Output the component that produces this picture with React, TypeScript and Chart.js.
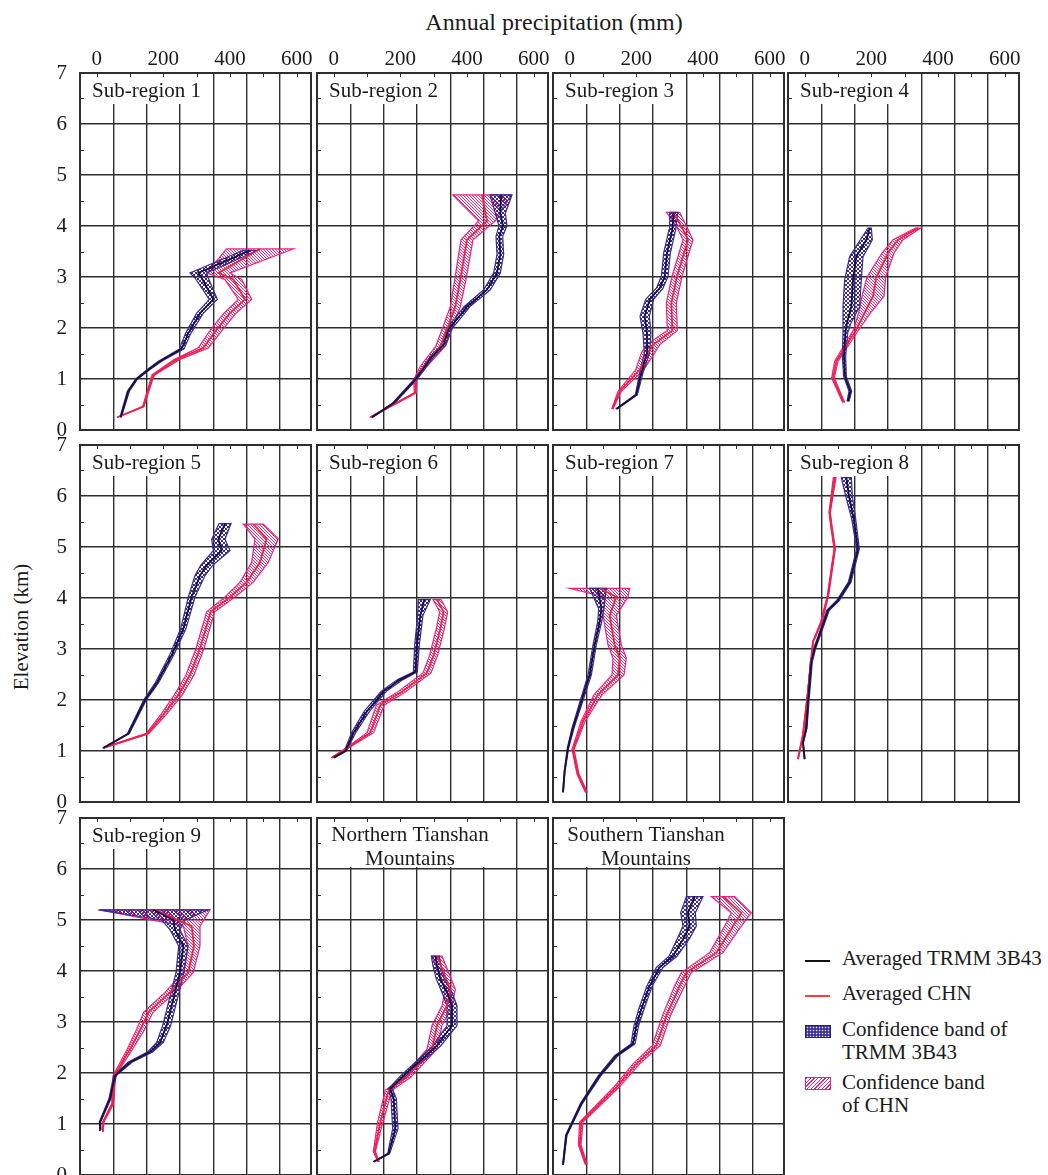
import React, { useEffect, useRef } from 'react';
import { Chart, registerables } from 'chart.js';

Chart.register(...registerables);

// ---------------- axis values ----------------
const xGridValues = [-50, 50, 150, 250, 350, 450, 550];
const xTickValues = [0, 100, 200, 300, 400, 500, 600];
const xLabelValues = [0, 200, 400, 600];
const yTickValues = [0, 1, 2, 3, 4, 5, 6, 7];
const yMinorValues = [0.5, 1.5, 2.5, 3.5, 4.5, 5.5, 6.5];

// ---------------- data (elevation km, precipitation mm, band half-width mm) ----------------
const p1TrmmElev = [0.25, 0.76, 1.0, 1.18, 1.35, 1.59, 1.9, 2.29, 2.56, 2.98, 3.08, 3.52];
const p1Trmm = [72, 95, 120, 155, 190, 255, 275, 310, 350, 315, 305, 460];
const p1TrmmErr = [2, 3, 3, 4, 5, 7, 8, 10, 12, 20, 25, 22];
const p1ChnElev = [0.25, 0.46, 0.99, 1.08, 1.38, 1.61, 1.97, 2.29, 2.56, 2.95, 3.08, 3.55];
const p1Chn = [62, 140, 165, 170, 240, 320, 360, 400, 445, 410, 365, 490];
const p1ChnErr = [1, 2, 3, 4, 8, 15, 18, 18, 20, 25, 35, 100];

const p2TrmmElev = [0.25, 0.53, 0.99, 1.44, 1.67, 1.97, 2.42, 2.75, 3.08, 3.44, 3.8, 4.0, 4.25, 4.61];
const p2Trmm = [115, 180, 245, 295, 330, 345, 400, 460, 490, 500, 497, 508, 500, 502];
const p2TrmmErr = [2, 3, 4, 6, 7, 8, 9, 10, 10, 10, 10, 12, 15, 33];
const p2ChnElev = [0.25, 0.73, 0.99, 1.25, 1.64, 1.97, 2.42, 2.95, 3.73, 4.1, 4.61];
const p2Chn = [110, 245, 245, 270, 320, 340, 365, 380, 400, 460, 445];
const p2ChnErr = [2, 3, 5, 10, 14, 15, 15, 17, 18, 25, 88];

const p3TrmmElev = [0.41, 0.69, 1.12, 1.51, 1.9, 2.23, 2.56, 2.78, 3.01, 3.47, 3.93, 4.27];
const p3Trmm = [140, 200, 215, 232, 232, 225, 240, 270, 285, 292, 308, 312];
const p3TrmmErr = [2, 3, 5, 8, 12, 14, 12, 10, 10, 10, 10, 12];
const p3ChnElev = [0.41, 0.76, 1.18, 1.51, 1.67, 1.95, 2.49, 3.01, 3.73, 4.0, 4.27];
const p3Chn = [128, 150, 210, 235, 250, 308, 305, 322, 355, 335, 310];
const p3ChnErr = [2, 5, 12, 20, 20, 15, 15, 15, 15, 15, 20];

const p4TrmmElev = [0.56, 0.76, 1.05, 1.44, 1.9, 2.1, 2.42, 2.95, 3.4, 3.73, 3.96];
const p4Trmm = [130, 137, 121, 118, 122, 127, 140, 145, 155, 185, 195];
const p4TrmmErr = [3, 4, 4, 5, 7, 12, 25, 25, 20, 18, 5];
const p4ChnElev = [0.54, 1.02, 1.35, 1.97, 2.3, 2.62, 3.0, 3.47, 3.73, 3.96];
const p4Chn = [117, 85, 95, 155, 180, 205, 215, 250, 280, 340];
const p4ChnErr = [3, 4, 5, 8, 18, 33, 28, 18, 15, 8];

const p5TrmmElev = [1.06, 1.34, 2.0, 2.33, 2.88, 3.4, 4.02, 4.44, 4.64, 4.93, 5.15, 5.46];
const p5Trmm = [20, 95, 145, 180, 225, 260, 285, 310, 330, 375, 365, 385];
const p5TrmmErr = [2, 3, 4, 5, 6, 8, 10, 15, 18, 25, 20, 18];
const p5ChnElev = [1.06, 1.34, 1.71, 2.1, 2.49, 3.01, 3.73, 4.02, 4.31, 4.7, 5.16, 5.45];
const p5Chn = [20, 152, 200, 245, 280, 310, 342, 400, 450, 490, 510, 470];
const p5ChnErr = [2, 4, 8, 12, 12, 12, 12, 15, 20, 25, 35, 30];

const p6TrmmElev = [0.87, 1.0, 1.36, 1.78, 2.17, 2.4, 2.55, 3.08, 3.66, 3.97];
const p6Trmm = [0, 35, 60, 100, 150, 200, 245, 250, 260, 272];
const p6TrmmErr = [2, 3, 6, 8, 8, 8, 6, 7, 8, 18];
const p6ChnElev = [0.87, 1.1, 1.36, 1.9, 2.14, 2.53, 2.88, 3.4, 3.73, 3.97];
const p6Chn = [-5, 50, 110, 140, 200, 280, 300, 320, 330, 310];
const p6ChnErr = [2, 4, 10, 12, 12, 12, 12, 12, 12, 12];

const p7TrmmElev = [0.19, 0.61, 1.06, 1.45, 1.97, 2.49, 3.08, 3.53, 3.79, 4.19];
const p7Trmm = [-20, -15, -5, 10, 35, 60, 75, 90, 95, 85];
const p7TrmmErr = [1, 1, 2, 3, 4, 5, 5, 6, 8, 25];
const p7ChnElev = [0.19, 0.55, 1.03, 1.58, 2.1, 2.49, 2.82, 3.08, 3.66, 4.02, 4.19];
const p7Chn = [50, 25, 10, 40, 85, 145, 150, 135, 120, 140, 90];
const p7ChnErr = [3, 3, 3, 6, 12, 18, 20, 20, 20, 35, 90];

const p8TrmmElev = [0.84, 1.16, 1.45, 1.97, 2.75, 3.01, 3.47, 3.76, 3.95, 4.31, 4.96, 5.55, 6.0, 6.36];
const p8Trmm = [0, -5, 5, 10, 20, 30, 55, 70, 100, 135, 160, 147, 133, 125];
const p8TrmmErr = [1, 1, 2, 3, 3, 3, 3, 4, 4, 4, 4, 6, 10, 15];
const p8ChnElev = [0.84, 1.32, 2.17, 3.14, 3.53, 4.05, 4.96, 5.42, 5.68, 6.36];
const p8Chn = [-20, -5, 10, 25, 50, 70, 90, 80, 75, 90];
const p8ChnErr = [1, 1, 1, 1, 2, 2, 2, 2, 2, 4];

const p9TrmmElev = [0.88, 1.04, 1.5, 1.95, 2.21, 2.41, 2.6, 2.93, 3.45, 3.97, 4.49, 4.81, 5.0, 5.2];
const p9Trmm = [12, 10, 40, 55, 100, 160, 190, 210, 230, 250, 260, 235, 230, 170];
const p9TrmmErr = [1, 2, 3, 4, 6, 8, 10, 12, 12, 12, 14, 15, 35, 165];
const p9ChnElev = [0.85, 1.04, 1.4, 1.95, 2.47, 2.83, 3.19, 3.58, 3.97, 4.49, 4.88, 5.2];
const p9Chn = [18, 20, 48, 53, 100, 130, 155, 220, 275, 292, 285, 175];
const p9ChnErr = [1, 2, 3, 4, 8, 12, 14, 15, 15, 18, 25, 165];

const pNTrmmElev = [0.26, 0.42, 0.91, 1.5, 1.69, 1.95, 2.24, 2.54, 2.93, 3.32, 3.58, 3.84, 4.1, 4.29];
const pNTrmm = [120, 165, 185, 180, 170, 210, 260, 310, 355, 355, 340, 320, 310, 305];
const pNTrmmErr = [2, 3, 8, 8, 6, 8, 10, 12, 15, 15, 15, 12, 12, 12];
const pNChnElev = [0.26, 0.46, 1.04, 1.66, 1.92, 2.47, 2.93, 3.32, 3.64, 3.97, 4.29];
const pNChn = [135, 122, 140, 165, 220, 295, 310, 340, 350, 330, 310];
const pNChnErr = [2, 3, 8, 10, 12, 15, 15, 15, 15, 15, 15];

const pSTrmmElev = [0.2, 0.78, 1.4, 1.95, 2.34, 2.57, 2.93, 3.25, 3.71, 4.07, 4.29, 4.62, 4.88, 5.14, 5.46];
const pSTrmm = [-20, -10, 35, 90, 140, 190, 200, 215, 240, 270, 310, 340, 360, 355, 375];
const pSTrmmErr = [1, 2, 3, 4, 5, 6, 7, 8, 8, 10, 12, 18, 20, 22, 25];
const pSChnElev = [0.2, 0.59, 1.04, 1.72, 2.18, 2.54, 3.12, 3.71, 3.97, 4.36, 4.88, 5.14, 5.46];
const pSChn = [50, 30, 35, 140, 200, 260, 290, 330, 350, 440, 490, 515, 460];
const pSChnErr = [3, 4, 5, 8, 10, 12, 12, 15, 15, 20, 25, 30, 35];

// ---------------- layout / style ----------------
const FONT = "'Liberation Serif', 'Times New Roman', Times, serif";
const INK = '#1b1b1b';
const GRID = '#2e2e2e';
const TRMM_LINE = '#17103c';
const TRMM_BAND = '#3b2b92';
const CHN_LINE = '#f0233f';
const CHN_BAND = '#e8227f';

const colLefts = [80, 317, 553, 788];
const rowTops = [73, 445, 818];
const PANEL_W = 231;
const PANEL_H = 357;
const X_MIN = -50;
const X_MAX = 643;

type Spec = {
  title: string[];
  centered: boolean;
  col: number;
  row: number;
  te: number[]; tv: number[]; terr: number[];
  ce: number[]; cv: number[]; cerr: number[];
};

const panels: Spec[] = [
  { title: ['Sub-region 1'], centered: false, col: 0, row: 0, te: p1TrmmElev, tv: p1Trmm, terr: p1TrmmErr, ce: p1ChnElev, cv: p1Chn, cerr: p1ChnErr },
  { title: ['Sub-region 2'], centered: false, col: 1, row: 0, te: p2TrmmElev, tv: p2Trmm, terr: p2TrmmErr, ce: p2ChnElev, cv: p2Chn, cerr: p2ChnErr },
  { title: ['Sub-region 3'], centered: false, col: 2, row: 0, te: p3TrmmElev, tv: p3Trmm, terr: p3TrmmErr, ce: p3ChnElev, cv: p3Chn, cerr: p3ChnErr },
  { title: ['Sub-region 4'], centered: false, col: 3, row: 0, te: p4TrmmElev, tv: p4Trmm, terr: p4TrmmErr, ce: p4ChnElev, cv: p4Chn, cerr: p4ChnErr },
  { title: ['Sub-region 5'], centered: false, col: 0, row: 1, te: p5TrmmElev, tv: p5Trmm, terr: p5TrmmErr, ce: p5ChnElev, cv: p5Chn, cerr: p5ChnErr },
  { title: ['Sub-region 6'], centered: false, col: 1, row: 1, te: p6TrmmElev, tv: p6Trmm, terr: p6TrmmErr, ce: p6ChnElev, cv: p6Chn, cerr: p6ChnErr },
  { title: ['Sub-region 7'], centered: false, col: 2, row: 1, te: p7TrmmElev, tv: p7Trmm, terr: p7TrmmErr, ce: p7ChnElev, cv: p7Chn, cerr: p7ChnErr },
  { title: ['Sub-region 8'], centered: false, col: 3, row: 1, te: p8TrmmElev, tv: p8Trmm, terr: p8TrmmErr, ce: p8ChnElev, cv: p8Chn, cerr: p8ChnErr },
  { title: ['Sub-region 9'], centered: false, col: 0, row: 2, te: p9TrmmElev, tv: p9Trmm, terr: p9TrmmErr, ce: p9ChnElev, cv: p9Chn, cerr: p9ChnErr },
  { title: ['Northern Tianshan', 'Mountains'], centered: true, col: 1, row: 2, te: pNTrmmElev, tv: pNTrmm, terr: pNTrmmErr, ce: pNChnElev, cv: pNChn, cerr: pNChnErr },
  { title: ['Southern Tianshan', 'Mountains'], centered: true, col: 2, row: 2, te: pSTrmmElev, tv: pSTrmm, terr: pSTrmmErr, ce: pSChnElev, cv: pSChn, cerr: pSChnErr },
];

function hatch(color: string, cross: boolean): CanvasPattern | string {
  const s = cross ? 4 : 3;
  const c = document.createElement('canvas');
  c.width = s;
  c.height = s;
  const g = c.getContext('2d');
  if (!g) return color;
  g.strokeStyle = color;
  g.lineWidth = 1;
  g.beginPath();
  g.moveTo(-1, -1); g.lineTo(s + 1, s + 1);
  g.moveTo(-1, s - 1); g.lineTo(1, s + 1);
  g.moveTo(s - 1, -1); g.lineTo(s + 1, 1);
  if (cross) {
    g.moveTo(s + 1, -1); g.lineTo(-1, s + 1);
    g.moveTo(1, -1); g.lineTo(-1, 1);
    g.moveTo(s + 1, s - 1); g.lineTo(s - 1, s + 1);
  }
  g.stroke();
  return g.createPattern(c, 'repeat') || color;
}

function Panel({ spec }: { spec: Spec }) {
  const ref = useRef<HTMLCanvasElement>(null);
  const isTop = spec.row === 0;
  const isLeft = spec.col === 0;
  const padL = isLeft ? 44 : 6;
  const padT = isTop ? 36 : 30;
  const padR = 8;
  const padB = 30;
  const xH = isTop ? 32 : 0;
  const yW = isLeft ? 40 : 0;
  const w = padL + PANEL_W + padR;
  const h = padT + PANEL_H + padB;

  useEffect(() => {
    const canvas = ref.current;
    if (!canvas) return;
    const line = (e: number[], v: number[]) => e.map((y, i) => ({ x: v[i], y }));
    const band = (e: number[], v: number[], err: number[]) => [
      ...e.map((y, i) => ({ x: v[i] - err[i], y })),
      ...e.map((y, i) => ({ x: v[i] + err[i], y })).reverse(),
    ];
    const decor = {
      id: 'decor',
      beforeDatasetsDraw(chart: any) {
        const { ctx, chartArea: a, scales } = chart;
        ctx.save();
        // title box
        const boxW = spec.centered ? 190 : 130;
        const boxH = spec.centered ? 48 : 30;
        ctx.fillStyle = '#ffffff';
        ctx.fillRect(a.left + 1, a.top + 1, boxW, boxH);
        ctx.fillStyle = INK;
        ctx.font = `21px ${FONT}`;
        ctx.textBaseline = 'middle';
        if (spec.centered) {
          ctx.textAlign = 'center';
          spec.title.forEach((t, i) => ctx.fillText(t, a.left + 93, a.top + 17 + i * 24));
        } else {
          ctx.textAlign = 'left';
          ctx.fillText(spec.title[0], a.left + 12, a.top + 18);
        }
        // inward ticks
        ctx.strokeStyle = GRID;
        ctx.lineWidth = 1;
        ctx.beginPath();
        for (const v of xTickValues) {
          const px = Math.round(scales.x.getPixelForValue(v)) + 0.5;
          ctx.moveTo(px, a.top);
          ctx.lineTo(px, a.top + 4);
        }
        for (const v of yMinorValues) {
          const py = Math.round(scales.y.getPixelForValue(v)) + 0.5;
          ctx.moveTo(a.left, py);
          ctx.lineTo(a.left + 4, py);
        }
        ctx.stroke();
        // frame
        ctx.lineWidth = 2;
        ctx.strokeRect(a.left, a.top, a.right - a.left, a.bottom - a.top);
        ctx.restore();
      },
    };
    const chart = new Chart(canvas, {
      type: 'line',
      data: {
        datasets: [
          { label: 'Averaged TRMM 3B43', data: line(spec.te, spec.tv), borderColor: TRMM_LINE, borderWidth: 1.8, pointRadius: 0, fill: false, tension: 0 },
          { label: 'Averaged CHN', data: line(spec.ce, spec.cv), borderColor: CHN_LINE, borderWidth: 1.8, pointRadius: 0, fill: false, tension: 0 },
          { label: 'Confidence band of TRMM 3B43', data: band(spec.te, spec.tv, spec.terr), borderColor: TRMM_BAND, borderWidth: 1.2, pointRadius: 0, backgroundColor: hatch(TRMM_BAND, true) as any, fill: 'shape', tension: 0 },
          { label: 'Confidence band of CHN', data: band(spec.ce, spec.cv, spec.cerr), borderColor: CHN_BAND, borderWidth: 1.2, pointRadius: 0, backgroundColor: hatch(CHN_BAND, false) as any, fill: 'shape', tension: 0 },
        ] as any,
      },
      options: {
        animation: false,
        responsive: false,
        maintainAspectRatio: false,
        devicePixelRatio: 1,
        events: [],
        layout: { padding: { left: padL - yW, top: padT - xH, right: padR, bottom: padB } },
        plugins: { legend: { display: false }, tooltip: { enabled: false } },
        scales: {
          x: {
            type: 'linear',
            position: 'top',
            min: X_MIN,
            max: X_MAX,
            afterBuildTicks: (s: any) => {
              s.ticks = [...xGridValues, ...xTickValues].sort((p, q) => p - q).map((v) => ({ value: v }));
            },
            afterFit: (s: any) => { s.height = xH; },
            border: { display: false },
            grid: {
              drawTicks: false,
              lineWidth: 1.4,
              color: (c: any) => (c.tick && xGridValues.includes(c.tick.value) ? GRID : 'rgba(0,0,0,0)'),
            },
            ticks: {
              display: isTop,
              autoSkip: false,
              maxRotation: 0,
              padding: 1,
              color: INK,
              font: { family: FONT, size: 21 },
              callback: (v: any) => (xLabelValues.includes(Number(v)) ? String(v) : ''),
            },
          },
          y: {
            type: 'linear',
            position: 'left',
            min: yTickValues[0],
            max: yTickValues[yTickValues.length - 1],
            afterFit: (s: any) => { s.width = yW; },
            border: { display: false },
            grid: { drawTicks: false, lineWidth: 1.4, color: GRID },
            ticks: {
              display: isLeft,
              stepSize: 1,
              autoSkip: false,
              padding: 13,
              color: INK,
              font: { family: FONT, size: 21 },
            },
          },
        },
      } as any,
      plugins: [decor],
    });
    return () => chart.destroy();
  }, []);

  return (
    <canvas
      ref={ref}
      width={w}
      height={h}
      style={{ position: 'absolute', left: colLefts[spec.col] - padL, top: rowTops[spec.row] - padT, width: w, height: h }}
    />
  );
}

export default function App() {
  const txt: React.CSSProperties = { position: 'absolute', fontSize: 21, whiteSpace: 'nowrap', lineHeight: '23px' };
  return (
    <div style={{ position: 'absolute', left: 0, top: 0, width: 1048, height: 1175, overflow: 'hidden', background: '#fff', fontFamily: FONT, color: INK }}>
      <div style={{ ...txt, fontSize: 24, lineHeight: '26px', left: 354, top: 9, width: 400, textAlign: 'center' }}>Annual precipitation (mm)</div>
      <div style={{ ...txt, left: 21, top: 627, transform: 'translate(-50%, -50%) rotate(-90deg)' }}>Elevation (km)</div>
      {panels.map((p) => (
        <Panel key={p.title.join(' ')} spec={p} />
      ))}
      {/* legend */}
      <div style={{ position: 'absolute', left: 805, top: 960, width: 25, height: 1.5, background: '#111' }} />
      <div style={{ ...txt, left: 842, top: 947 }}>Averaged TRMM 3B43</div>
      <div style={{ position: 'absolute', left: 805, top: 995, width: 25, height: 1.5, background: '#ff3b3b' }} />
      <div style={{ ...txt, left: 842, top: 982 }}>Averaged CHN</div>
      <div
        style={{
          position: 'absolute', left: 805, top: 1025, width: 24, height: 11,
          backgroundColor: TRMM_BAND,
          backgroundImage: 'radial-gradient(circle, rgba(255,255,255,0.85) 0.7px, transparent 1.1px)',
          backgroundSize: '3px 3px',
          border: '1px solid #2a1f70',
        }}
      />
      <div style={{ ...txt, left: 842, top: 1018 }}>Confidence band of<br />TRMM 3B43</div>
      <div
        style={{
          position: 'absolute', left: 805, top: 1077, width: 24, height: 11,
          backgroundImage: `repeating-linear-gradient(-45deg, ${CHN_BAND} 0px, ${CHN_BAND} 1px, #fff 1px, #fff 2.6px)`,
          border: `1px solid ${CHN_BAND}`,
        }}
      />
      <div style={{ ...txt, left: 842, top: 1071 }}>Confidence band<br />of CHN</div>
    </div>
  );
}
